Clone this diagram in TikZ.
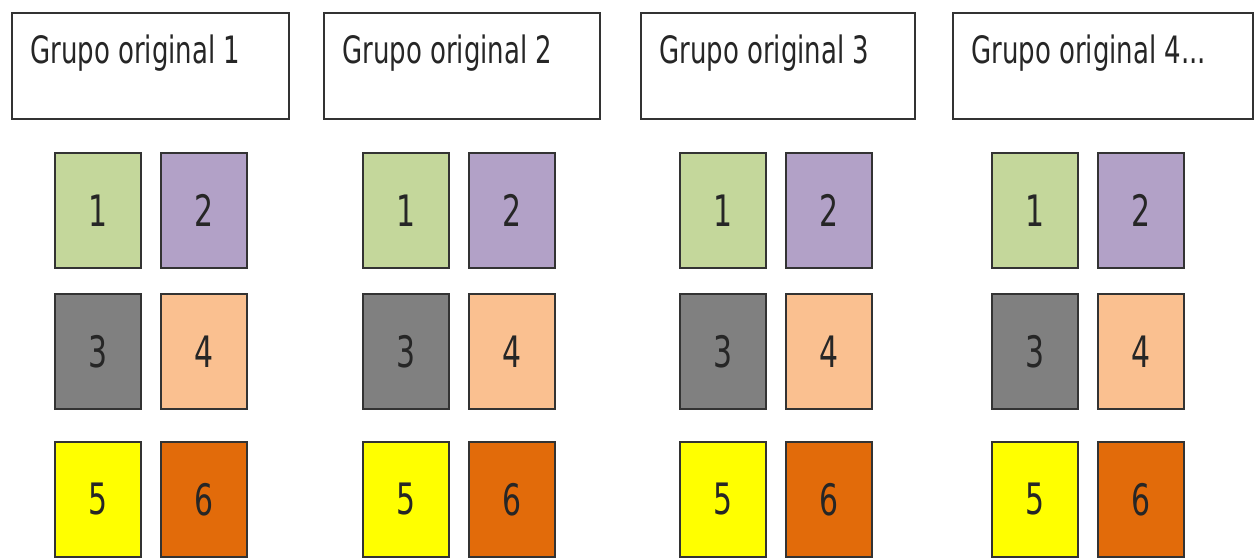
\documentclass[tikz,border=0pt]{standalone}
\usepackage{fontspec}
\setmainfont{DejaVu Sans}
\definecolor{SageGreen}{RGB}{196,215,155}
\definecolor{Lavender}{RGB}{178,161,199}
\definecolor{MidGray}{RGB}{128,128,128}
\definecolor{Peach}{RGB}{250,192,144}
\definecolor{BrightYellow}{RGB}{255,255,0}
\definecolor{BurntOrange}{RGB}{226,107,10}
\newcommand{\tallt}[1]{\scalebox{1}[1.45]{#1}}

\begin{document}
\begin{tikzpicture}[
  x=0.02cm, y=-0.02cm,
  hdr/.style = {draw=black!80, fill=white, line width=1.1pt,
                minimum height=2.12cm, inner sep=0pt, anchor=north west},
  lbl/.style = {font=\fontsize{14.8}{18}\selectfont, text=black!85,
                inner sep=0pt, anchor=base west},
  sq/.style  = {draw=black!80, line width=1pt, minimum width=1.72cm,
                minimum height=2.3cm, inner sep=0pt, text=black!85,
                font=\fontsize{17}{20}\selectfont},
]
\useasboundingbox (0,0) rectangle (1259,559);

\foreach \g/\bx/\bw/\sx/\txt in {1/11/277/55/{Grupo original 1},
    2/323/276/363/{Grupo original 2}, 3/640/274/680/{Grupo original 3},
    4/952/300/992/{Grupo original 4...}}{
  \node[hdr, minimum width=\bw*0.02cm] (hdr\g) at (\bx,12) {};
  \node[lbl] (lbl\g) at (\bx+19,63) {\tallt{\txt}};

  \foreach \k/\col/\c/\ry in {1/SageGreen/0/210.5, 2/Lavender/1/210.5,
      3/MidGray/0/351.5, 4/Peach/1/351.5,
      5/BrightYellow/0/499.5, 6/BurntOrange/1/499.5}{
    \node[sq, fill=\col] (s\g-\k) at (\sx+43+\c*106,\ry) {\tallt{\k}};
  }
}

\end{tikzpicture}
\end{document}
